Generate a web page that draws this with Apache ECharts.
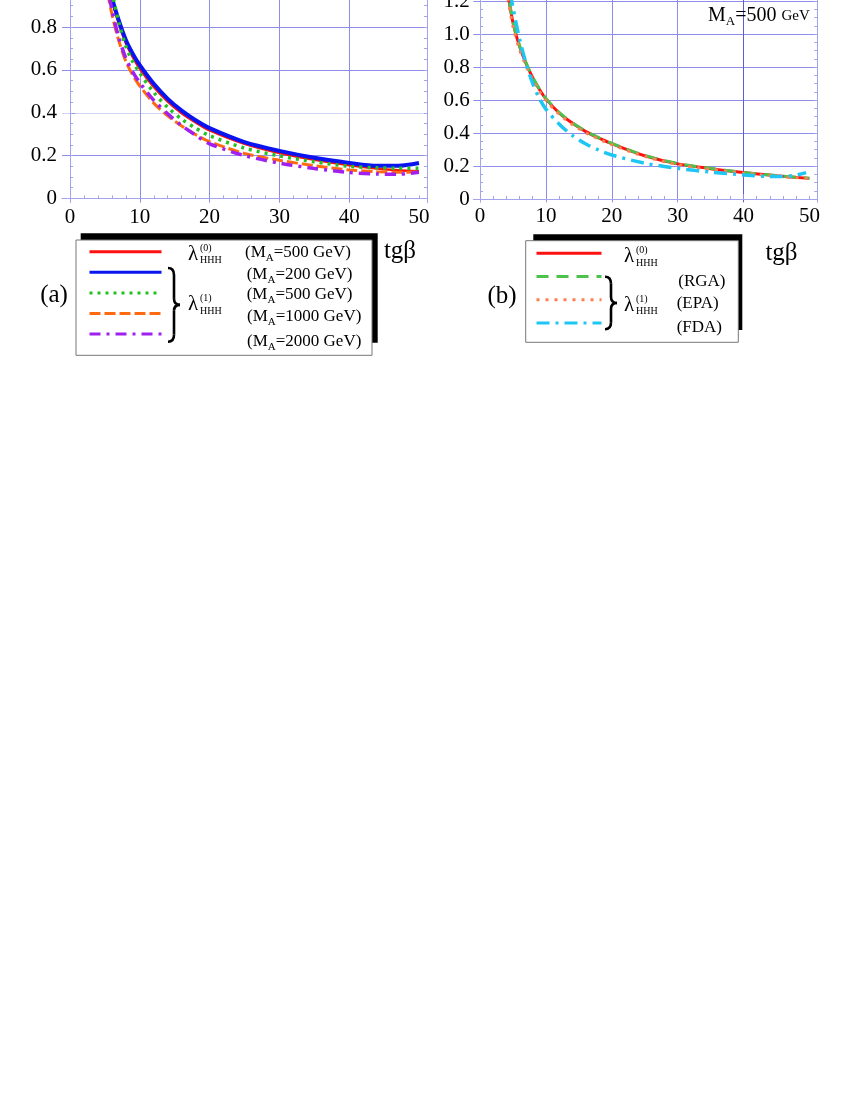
<!DOCTYPE html>
<html>
<head>
<meta charset="utf-8">
<script src="https://cdn.jsdelivr.net/npm/echarts@6/dist/echarts.min.js"></script>
<style>
html, body { margin: 0; padding: 0; background: #fff; overflow: hidden; }
/* 图的上部被裁掉, 画布向上偏移 */
#main { position: absolute; left: 0; top: -100px; width: 854px; height: 1205px; }
</style>
</head>
<body>
<div id="main"></div>
<script>
// 刻度
var xLabels = [0, 10, 20, 30, 40, 50];
var xGrid = [10, 20, 30, 40];
var yLabels = [0, 0.2, 0.4, 0.6, 0.8, 1.0, 1.2];
var yGrid = [0.2, 0.4, 0.6, 0.8, 1.0, 1.2];

// (a) 不同 M_A
var tgA = [5, 6, 7, 8, 9, 10, 12, 14, 16, 18, 20, 25, 30, 35, 40, 44, 47, 50];
var treeA500 = [1.11, 0.93, 0.815, 0.725, 0.66, 0.605, 0.52, 0.452, 0.398, 0.355, 0.318, 0.255, 0.212, 0.18, 0.155, 0.14, 0.132, 0.127];
var loopA200 = [1.13, 0.94, 0.83, 0.74, 0.675, 0.622, 0.535, 0.465, 0.41, 0.365, 0.328, 0.263, 0.222, 0.19, 0.166, 0.152, 0.152, 0.165];
var loopA500 = [1.19, 0.97, 0.82, 0.71, 0.638, 0.585, 0.495, 0.425, 0.37, 0.328, 0.293, 0.235, 0.199, 0.171, 0.15, 0.143, 0.141, 0.141];
var loopA1000 = [1.03, 0.86, 0.735, 0.64, 0.575, 0.525, 0.445, 0.385, 0.338, 0.298, 0.265, 0.21, 0.178, 0.153, 0.133, 0.125, 0.122, 0.124];
var loopA2000 = [1.06, 0.88, 0.75, 0.655, 0.59, 0.54, 0.458, 0.395, 0.34, 0.295, 0.255, 0.2, 0.165, 0.14, 0.121, 0.114, 0.113, 0.122];

// (b) M_A = 500 GeV
var tgB = [4, 5, 6, 7, 8, 9, 10, 12, 14, 16, 18, 20, 25, 30, 35, 40, 45, 50];
var treeB = [1.30, 1.07, 0.925, 0.82, 0.735, 0.665, 0.607, 0.522, 0.46, 0.41, 0.37, 0.335, 0.262, 0.213, 0.184, 0.16, 0.141, 0.125];
var rgaB = [1.31, 1.075, 0.93, 0.824, 0.738, 0.668, 0.61, 0.525, 0.462, 0.412, 0.372, 0.337, 0.264, 0.215, 0.186, 0.161, 0.142, 0.126];
var epaB = [1.27, 1.045, 0.905, 0.805, 0.724, 0.655, 0.598, 0.515, 0.452, 0.403, 0.364, 0.329, 0.258, 0.209, 0.18, 0.157, 0.139, 0.123];
var tgFDA = [4.6, 5, 6, 7, 8, 9, 10, 12, 14, 16, 18, 20, 25, 30, 35, 40, 44, 46, 48, 49.5];
var fdaB = [1.25, 1.16, 0.97, 0.82, 0.70, 0.61, 0.545, 0.455, 0.385, 0.335, 0.297, 0.267, 0.217, 0.186, 0.163, 0.146, 0.137, 0.137, 0.145, 0.16];

// 小刻度
var xMinor = [];
for (var i = 0; i <= 50; i += 2) { if (i % 10 !== 0 || i === 0 || i === 50) xMinor.push(i); }
var yMinor = [];
for (var j = 0; j <= 30; j++) yMinor.push(+(j * 0.05).toFixed(2));

var OFF = 100;
var FONT = 'Liberation Serif';
var frameColor = '#a4a4ee';
var gridColor = '#8e8ee9';

var pairs = function (xs, ys) {
    return xs.map(function (x, k) { return [x, ys[k]]; });
};

var fmtY = function (v) { return v === 0 ? '0' : v.toFixed(1); };

var mainX = function (gi, min, max, splitColors) {
    return {
        type: 'value', gridIndex: gi, min: min, max: max, position: 'bottom',
        axisLine: { show: true, lineStyle: { color: frameColor, width: 1 } },
        axisTick: { show: true, inside: true, length: 5, customValues: xGrid, lineStyle: { color: gridColor } },
        axisLabel: { customValues: xLabels, color: '#000', fontFamily: FONT, fontSize: 21, margin: 4 },
        splitLine: { show: true, lineStyle: { color: splitColors, width: 1 } }
    };
};
var mainY = function (gi, min, max, margin, splitColors) {
    return {
        type: 'value', gridIndex: gi, min: min, max: max, position: 'left',
        axisLine: { show: true, lineStyle: { color: frameColor, width: 1 } },
        axisTick: { show: true, inside: true, length: 5, customValues: yGrid, lineStyle: { color: gridColor } },
        axisLabel: { customValues: yLabels, formatter: fmtY, color: '#000', fontFamily: FONT, fontSize: 21, margin: margin },
        splitLine: { show: true, lineStyle: { color: splitColors, width: 1 } }
    };
};
var rightY = function (gi, min, max) {
    return {
        type: 'value', gridIndex: gi, min: min, max: max, position: 'right',
        axisLine: { show: true, lineStyle: { color: frameColor, width: 1 } },
        axisTick: { show: true, inside: true, length: 3, customValues: yMinor, lineStyle: { color: frameColor } },
        axisLabel: { show: false }, splitLine: { show: false }
    };
};
var minorX = function (gi, min, max) {
    return {
        type: 'value', gridIndex: gi, min: min, max: max, position: 'bottom',
        axisLine: { show: false },
        axisTick: { show: true, inside: true, length: 3, customValues: xMinor, lineStyle: { color: frameColor } },
        axisLabel: { show: false }, splitLine: { show: false }
    };
};
var minorY = function (gi, min, max) {
    return {
        type: 'value', gridIndex: gi, min: min, max: max, position: 'left',
        axisLine: { show: false },
        axisTick: { show: true, inside: true, length: 3, customValues: yMinor, lineStyle: { color: frameColor } },
        axisLabel: { show: false }, splitLine: { show: false }
    };
};

var line = function (name, xi, yi, data, color, width, type, z) {
    return {
        name: name, type: 'line', xAxisIndex: xi, yAxisIndex: yi,
        data: data, symbol: 'none', showSymbol: false,
        smooth: 0.3, z: z,
        lineStyle: { color: color, width: width, type: type },
        itemStyle: { color: color }
    };
};

// 文字
var txt = function (x, y, text, size, align) {
    return { type: 'text', x: x, y: y, z: 100,
        style: { text: text, fontFamily: FONT, fontSize: size, fill: '#000', align: align || 'left', verticalAlign: 'middle' } };
};
var maText = function (x, y, val) {
    return { type: 'text', x: x, y: y, z: 100,
        style: {
            text: '{n|(M}{s|A}{n|=' + val + ' GeV)}', align: 'left', verticalAlign: 'middle',
            rich: {
                n: { fontFamily: FONT, fontSize: 17, lineHeight: 22, verticalAlign: 'middle', fill: '#000' },
                s: { fontFamily: FONT, fontSize: 11, lineHeight: 22, verticalAlign: 'bottom', fill: '#000' }
            }
        } };
};
var lam = function (x, y, sup) {
    return [
        txt(x, y, 'λ', 21),
        txt(x + 12, y - 6, '(' + sup + ')', 10),
        txt(x + 12, y + 6.5, 'HHH', 10)
    ];
};
// 大括号
var brace = function (x, y0, y1, w) {
    var ym = (y0 + y1) / 2, xm = x + w / 2;
    var st = { stroke: '#000', lineWidth: 2.6, fill: 'none' };
    var q = function (a, b, c, d, e, f) {
        return { type: 'bezierCurve', z: 100, shape: { x1: a, y1: b, cpx1: c, cpy1: d, x2: e, y2: f }, style: st };
    };
    var l = function (a, b, c, d) {
        return { type: 'line', z: 100, shape: { x1: a, y1: b, x2: c, y2: d }, style: st };
    };
    return [
        q(x, y0, xm, y0, xm, y0 + 7),
        l(xm, y0 + 7, xm, ym - 6),
        q(xm, ym - 6, xm, ym, x + w, ym),
        q(x + w, ym, xm, ym, xm, ym + 6),
        l(xm, ym + 6, xm, y1 - 7),
        q(xm, y1 - 7, xm, y1, x, y1)
    ];
};
var box = function (x0, y0, x1, y1, sx0, sy0, sx1, sy1) {
    return [
        { type: 'rect', z: 90, shape: { x: sx0, y: sy0, width: sx1 - sx0, height: sy1 - sy0 }, style: { fill: '#000' } },
        { type: 'rect', z: 91, shape: { x: x0, y: y0, width: x1 - x0, height: y1 - y0 }, style: { fill: '#fff', stroke: '#777', lineWidth: 1 } }
    ];
};

var graphics = [].concat(
    box(76, 240, 372, 355.3, 80.7, 233.3, 377.7, 342.7),
    box(525.7, 240.7, 738.3, 342.3, 533.3, 234.3, 742.3, 330),
    lam(188, 254, 0), lam(188, 304.5, 1),
    lam(624, 256.5, 0), lam(624, 305, 1),
    brace(168, 268, 341.7, 12),
    brace(605, 276.7, 329.3, 12),
    [
        maText(245, 253, '500'), maText(246.7, 275, '200'), maText(246.7, 295, '500'),
        maText(247, 316.7, '1000'), maText(247, 341.7, '2000'),
        txt(678.3, 281.7, '(RGA)', 17), txt(676.7, 304, '(EPA)', 17), txt(676.7, 327.3, '(FDA)', 17),
        txt(54, 295, '(a)', 25, 'center'), txt(502, 296.7, '(b)', 25, 'center'),
        txt(400, 251.7, 'tgβ', 25, 'center'), txt(781.5, 253.3, 'tgβ', 25, 'center'),
        { type: 'text', x: 708, y: 16, z: 100,
          style: { text: '{m|M}{s|A}{m|=500 }{g|GeV}', align: 'left', verticalAlign: 'middle',
            rich: {
                m: { fontFamily: FONT, fontSize: 20, lineHeight: 24, verticalAlign: 'middle', fill: '#000' },
                s: { fontFamily: FONT, fontSize: 13, lineHeight: 24, verticalAlign: 'bottom', fill: '#000' },
                g: { fontFamily: FONT, fontSize: 15, lineHeight: 24, verticalAlign: 'middle', fill: '#000' }
            } } }
    ]
);

var myChart = echarts.init(document.getElementById('main'), null, { renderer: 'canvas' });

var leftSplitY = [gridColor, '#d2d2f5', gridColor, gridColor, gridColor, gridColor];
var rightSplitX = [gridColor, gridColor, gridColor, '#5c5cd6'];

var option = {
    backgroundColor: '#fff',
    animation: false,
    grid: [
        { left: 62, top: OFF - 80, width: 365, height: 282.7 },
        { left: 62, top: OFF - 80, width: 365, height: 282.7 },
        { left: 473.3, top: OFF - 65, width: 344, height: 267.3 },
        { left: 473.3, top: OFF - 65, width: 344, height: 267.3 }
    ],
    xAxis: [
        mainX(0, -1.15, 51.15, gridColor),
        minorX(1, -1.15, 51.15),
        mainX(2, -1.02, 51.2, rightSplitX),
        minorX(3, -1.02, 51.2)
    ],
    yAxis: [
        mainY(0, -0.02, 1.3, 5, leftSplitY),
        rightY(0, -0.02, 1.3),
        minorY(1, -0.02, 1.3),
        mainY(2, -0.02, 1.6, 3.5, gridColor),
        rightY(2, -0.02, 1.6),
        minorY(3, -0.02, 1.6)
    ],
    legend: [
        {
            data: ['tree500', 'MA200', 'MA500', 'MA1000', 'MA2000'],
            orient: 'vertical', left: 88, top: OFF + 244.7, padding: 0,
            itemWidth: 72, itemHeight: 14, itemGap: 8, z: 110,
            itemStyle: { opacity: 0 }, lineStyle: { width: 3 },
            selectedMode: false, formatter: function () { return ''; }
        },
        {
            data: ['treeB', 'RGA', 'EPA', 'FDA'],
            orient: 'vertical', left: 535, top: OFF + 246.3, padding: 0,
            itemWidth: 65, itemHeight: 14, itemGap: 10.6, z: 110,
            itemStyle: { opacity: 0 }, lineStyle: { width: 3 },
            selectedMode: false, formatter: function () { return ''; }
        }
    ],
    graphic: [{ type: 'group', x: 0, y: OFF, children: graphics }],
    series: [
        line('tree500', 0, 0, pairs(tgA, treeA500), '#ff1010', 2.5, 'solid', 2),
        line('MA200', 0, 0, pairs(tgA, loopA200), '#0a14f0', 4, 'solid', 3),
        line('MA500', 0, 0, pairs(tgA, loopA500), '#22c022', 3.5, [3, 5], 4),
        line('MA1000', 0, 0, pairs(tgA, loopA1000), '#ff6a10', 3, [11, 4], 5),
        line('MA2000', 0, 0, pairs(tgA, loopA2000), '#a020f0', 3.5, [11, 6, 3, 6], 6),

        line('treeB', 2, 3, pairs(tgB, treeB), '#ff1010', 3, 'solid', 2),
        line('RGA', 2, 3, pairs(tgB, rgaB), '#4cc24c', 3, [12, 8], 3),
        line('EPA', 2, 3, pairs(tgB, epaB), '#ff7f50', 3, [3, 6], 4),
        line('FDA', 2, 3, pairs(tgFDA, fdaB), '#1ec6f4', 3.5, [13, 6, 3, 6], 5)
    ]
};
myChart.setOption(option);
</script>
</body>
</html>
